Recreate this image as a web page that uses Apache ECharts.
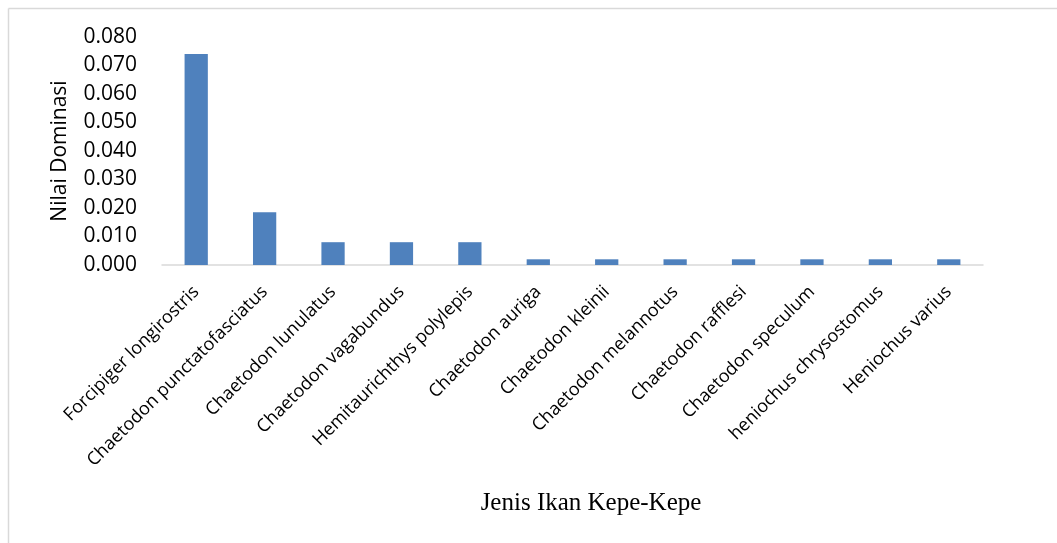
<!DOCTYPE html>
<html><head><meta charset="utf-8">
<script src="https://cdn.jsdelivr.net/npm/echarts@6/dist/echarts.min.js"></script>
<style>html,body{margin:0;padding:0;background:#fff}#c{width:1057px;height:543px}</style>
</head><body><div id="c"></div>
<script>
const categories = ["Forcipiger longirostris","Chaetodon punctatofasciatus","Chaetodon lunulatus","Chaetodon vagabundus","Hemitaurichthys polylepis","Chaetodon auriga","Chaetodon kleinii","Chaetodon melannotus","Chaetodon rafflesi","Chaetodon speculum","heniochus chrysostomus","Heniochus varius"];
const values = [0.074, 0.0185, 0.008, 0.008, 0.008, 0.002, 0.002, 0.002, 0.002, 0.002, 0.002, 0.002];
const yTicks = [0, 0.08, 0.01];
const yTitle = "Nilai Dominasi";
const xTitle = "Jenis Ikan Kepe-Kepe";

const chart = echarts.init(document.getElementById('c'), null, {renderer:'canvas'});
chart.setOption({
  animation:false,
  grid:{left:162,right:74,top:37,bottom:278,containLabel:false},
  xAxis:{type:'category',data:categories,
    axisLine:{lineStyle:{color:'#d9d9d9',width:1.5}},
    axisTick:{show:false},
    axisLabel:{rotate:45,margin:24,interval:0,color:'#000',fontFamily:'Open Sans',fontSize:18}},
  yAxis:{type:'value',min:yTicks[0],max:yTicks[1],interval:yTicks[2],
    name:yTitle,nameLocation:'middle',nameGap:91,nameRotate:90,
    nameTextStyle:{color:'#000',fontFamily:'Open Sans',fontSize:21},
    axisLine:{show:false},axisTick:{show:false},splitLine:{show:false},
    axisLabel:{margin:25,color:'#000',fontFamily:'Open Sans',fontSize:21,formatter:v=>v.toFixed(3)}},
  series:[{type:'bar',data:values,barWidth:'34%',itemStyle:{color:'#4f81bd'}}],
  graphic:[
    {type:'line',shape:{x1:8.5,y1:8.5,x2:1057,y2:8.5},style:{stroke:'#d9d9d9',lineWidth:1.5}},
    {type:'line',shape:{x1:8.5,y1:8.5,x2:8.5,y2:543},style:{stroke:'#d9d9d9',lineWidth:1.5}},
    {type:'text',x:591,y:503,style:{text:xTitle,font:'25px "Liberation Serif"',fill:'#000',textAlign:'center',textVerticalAlign:'middle'}}
  ]
});
</script></body></html>
